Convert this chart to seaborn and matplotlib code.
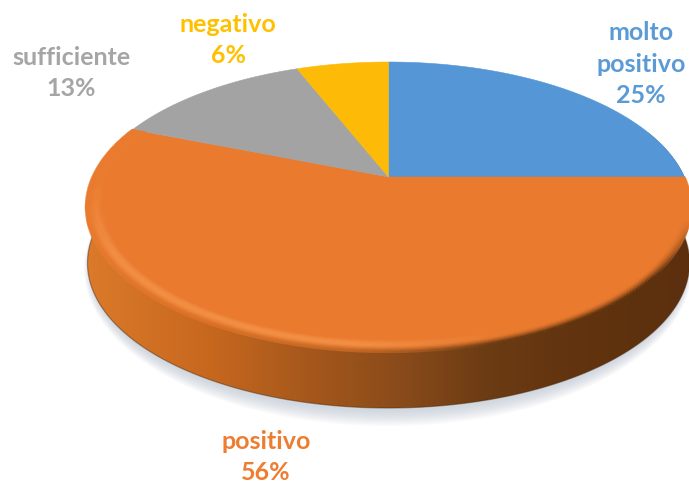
import numpy as np
import matplotlib
matplotlib.use("Agg")
import matplotlib.pyplot as plt
from matplotlib.patches import Polygon, Ellipse
from matplotlib.collections import LineCollection
from matplotlib.colors import LinearSegmentedColormap, to_rgb
import seaborn as sns

categories = ["molto\npositivo", "positivo", "sufficiente", "negativo"]
values = [25, 56, 13, 6]
face_colors = ["#5596D6", "#E97A2E", "#A3A3A3", "#FDBB08"]
label_colors = ["#5B9BD5", "#ED7D31", "#A5A5A5", "#FFC000"]
label_xy = [(641, 64), (266, 457), (71, 73), (228, 40)]

CX, CY, BX, BY, K = 388.5, 177.0, 296.0, 138.8, 0.207
DEPTH = 56.0
side_stops = [(0.0, "#DB7A2A"), (0.2, "#C8681F"), (0.37, "#A5581C"), (0.52, "#8A4B1A"),
              (0.66, "#6C3C14"), (0.8, "#62340F"), (1.0, "#5C300E")]


def project(x, y):
    d = 1 + K * y
    return CX + BX * x / d, CY - BY * y / d


sns.set_theme(style="white")
plt.rcParams["font.family"] = ["Lato", "DejaVu Sans"]
palette = sns.color_palette(face_colors)

fig = plt.figure(figsize=(6.89, 4.84), dpi=100)
ax = fig.add_axes([0, 0, 1, 1])
wedges, _ = ax.pie(values, colors=palette, startangle=90, counterclock=False, radius=1)
ax.set_aspect("auto")
ax.set_xlim(0, 689)
ax.set_ylim(484, 0)
ax.axis("off")

# soft shadow below the disc
for i, g in enumerate(np.linspace(1, 0, 12)):
    ax.add_patch(Ellipse((388, 268), 2 * (297 + 7 * g), 2 * (143 + 15 * g),
                         fc="#B9C2D0", ec="none", alpha=0.07, zorder=0.5))

# side wall
t = np.radians(np.linspace(-200, 20, 300))
rx, ry = project(np.cos(t), np.sin(t))
sx = 388 + (rx - 388) * 0.995
side_poly = np.column_stack([np.r_[rx, sx[::-1]], np.r_[ry, ry[::-1] + DEPTH]])
clip = Polygon(side_poly, closed=True, fc="none", ec="none", transform=ax.transData)
ax.add_patch(clip)
cmap = LinearSegmentedColormap.from_list("side", side_stops)
img = ax.imshow(np.linspace(0, 1, 256)[None, :], cmap=cmap, extent=(85, 690, 420, 120),
                aspect="auto", zorder=1)
img.set_clip_path(clip)
ax.plot(sx[(np.sin(t) < 0)], ry[(np.sin(t) < 0)] + DEPTH, color="#4A2A12", lw=0.9, alpha=0.45, zorder=1.2)
ax.set_xlim(0, 689)
ax.set_ylim(484, 0)

# top face: the pie's own wedges, put through the perspective projection
for w, c in zip(wedges, palette):
    ang = np.radians(np.linspace(w.theta1, w.theta2, 200))
    px, py = project(np.r_[0, np.cos(ang)], np.r_[0, np.sin(ang)])
    ax.add_patch(Polygon(np.column_stack([px, py]), closed=True, fc=c, ec=c, lw=0.4, zorder=2))
    w.remove()

# bevel on the rim of the largest wedge
big = wedges[int(np.argmax(values))]
ang = np.radians(np.linspace(big.theta1, big.theta2, 500))
base = np.array(to_rgb(face_colors[1]))
light = np.array(to_rgb("#F39045"))
for p in np.linspace(0, 1, 12):
    r = 0.945 + 0.055 * p
    x, y = project(r * np.cos(ang), r * np.sin(ang))
    pts = np.column_stack([x, y])
    segs = np.stack([pts[:-1], pts[1:]], axis=1)
    xm = x[:-1]
    sm = np.sin(ang[:-1])
    lx = np.clip((500 - xm) / 150, 0, 1)[:, None]
    front = np.clip((-sm + 0.05) * 1.8, 0.12, 1)[:, None]
    bump = np.sin(np.pi * min(p / 0.85, 1))
    cols = base + (light - base) * bump * lx * front
    fall = np.clip((-sm - 0.3) * 3, 0, 1)[:, None]
    outer = np.clip((p - 0.5) / 0.5, 0, 1) ** 1.5 * fall
    wall = cmap(np.clip((xm - 85) / 605, 0, 1))[:, :3]
    cols = cols + (wall - cols) * outer * (0.5 + 0.5 * (1 - lx))
    ax.add_collection(LineCollection(segs, colors=cols, linewidths=1.6, zorder=3, capstyle="butt"))

# labels
for name, v, c, (lx_, ly_) in zip(categories, values, label_colors, label_xy):
    ax.text(lx_, ly_, f"{name}\n{v}%", color=c, ha="center", va="center", fontsize=18,
            fontweight="bold", linespacing=1.45, zorder=5)

fig.savefig("out.png", dpi=100, facecolor="white")
